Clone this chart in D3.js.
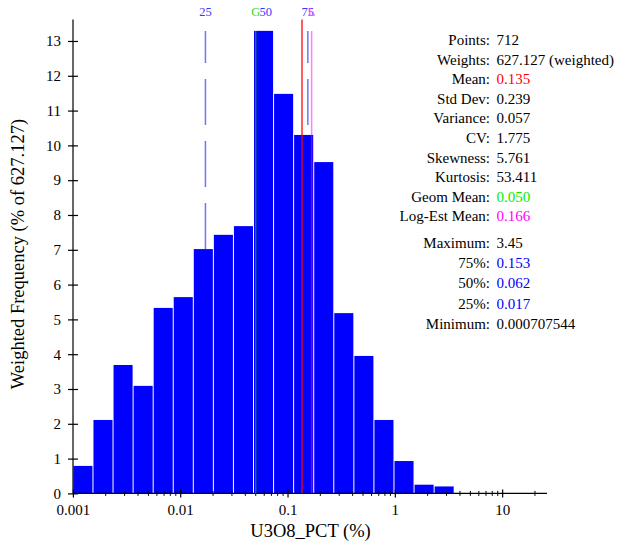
<!DOCTYPE html>
<html><head><meta charset="utf-8">
<script src="https://cdn.jsdelivr.net/npm/d3@7"></script>
<style>
body{margin:0;background:#fff}
svg{display:block}
text{font-family:"Liberation Serif","Times New Roman",serif}
</style></head>
<body><svg id="c" width="619" height="546"></svg>
<script>
// ---- data ----
const binEdges = [0.001, 0.001538, 0.002366, 0.003639, 0.005598, 0.008610, 0.01324, 0.02037, 0.03133, 0.04819,
                  0.07413, 0.1140, 0.1754, 0.2698, 0.4150, 0.6383, 0.9817, 1.510, 2.323, 3.573];
const freq = [0.79, 2.11, 3.69, 3.09, 5.33, 5.64, 7.02, 7.43, 7.68, 13.29,
              11.48, 10.30, 9.52, 5.18, 3.95, 2.11, 0.93, 0.25, 0.20];
const xTickValues = [0.001, 0.01, 0.1, 1, 10];
const xTickLabels = ["0.001", "0.01", "0.1", "1", "10"];
const yTickValues = [0,1,2,3,4,5,6,7,8,9,10,11,12,13];

const markerValues = [0.017, 0.062, 0.153, 0.050, 0.166, 0.135];
const markerLabels = ["25", "50", "75", "G", "L", ""];
const markerKinds  = ["q", "q", "q", "geom", "logest", "mean"];

const statLabels1 = ["Points:", "Weights:", "Mean:", "Std Dev:", "Variance:", "CV:", "Skewness:", "Kurtosis:", "Geom Mean:", "Log-Est Mean:"];
const statValues1 = ["712", "627.127 (weighted)", "0.135", "0.239", "0.057", "1.775", "5.761", "53.411", "0.050", "0.166"];
const statColors1 = ["#000","#000","#ff0000","#000","#000","#000","#000","#000","#00ee00","#ff00ff"];
const statLabels2 = ["Maximum:", "75%:", "50%:", "25%:", "Minimum:"];
const statValues2 = ["3.45", "0.153", "0.062", "0.017", "0.000707544"];
const statColors2 = ["#000", "#0000ff", "#0000ff", "#0000ff", "#000"];

const xTitle = "U3O8_PCT (%)";
const yTitle = "Weighted Frequency (% of 627.127)";

// ---- scales ----
const svg = d3.select("#c");
const x = d3.scaleLog().domain([0.001, 25.9]).range([73.4, 547]);
const y = d3.scaleLinear().domain([0, 13.62]).range([493.4, 19.4]);

// bars
svg.append("g").selectAll("rect").data(freq).join("rect")
  .attr("x", (d,i) => x(binEdges[i]))
  .attr("width", (d,i) => x(binEdges[i+1]) - x(binEdges[i]) - 1)
  .attr("y", d => y(d))
  .attr("height", d => y(0) - y(d))
  .attr("fill", "#0000ff");

// x axis
const gx = svg.append("g");
gx.append("line").attr("x1", x.range()[0]).attr("x2", x.range()[1])
  .attr("y1", y(0)).attr("y2", y(0)).attr("stroke", "#000").attr("stroke-width", 1.2);
const minor = x.ticks().filter(t => !xTickValues.some(v => Math.abs(v - t) / v < 1e-6));
gx.selectAll("line.minor").data(minor).join("line").attr("class","minor")
  .attr("x1", d => x(d)).attr("x2", d => x(d))
  .attr("y1", y(0) - 2.5).attr("y2", y(0) + 2.5).attr("stroke", "#000").attr("stroke-width", 1);
gx.selectAll("line.major").data(xTickValues).join("line").attr("class","major")
  .attr("x1", d => x(d)).attr("x2", d => x(d))
  .attr("y1", y(0) - 4).attr("y2", y(0) + 4).attr("stroke", "#000").attr("stroke-width", 1.2);
gx.selectAll("text").data(xTickValues).join("text")
  .attr("x", d => x(d)).attr("y", 515).attr("text-anchor", "middle")
  .attr("font-size", 15).text((d,i) => xTickLabels[i]);

// y axis
const gy = svg.append("g").attr("transform", `translate(${x.range()[0] - 0.4},0)`)
  .call(d3.axisLeft(y).tickValues(yTickValues).tickSize(5).tickPadding(7).tickFormat(d3.format("d")));
gy.select(".domain").attr("d", `M0,${y(0)}V${y.range()[1]}`).attr("stroke-width", 1.2);
gy.selectAll(".tick line").attr("x1", 5).attr("x2", -5).attr("stroke-width", 1.2);
gy.selectAll(".tick text").attr("font-size", 15)
  .attr("font-family", '"Liberation Serif","Times New Roman",serif');

// marker lines
const yTop = y(d3.max(freq));
const styles = {
  q:      {c: "#0000ff", o: 0.55, dash: "46,16", off: 14, top: yTop, lc: "#3a3aff"},
  geom:   {c: "#00ff00", o: 0.5,  dash: null, off: 0, top: yTop, lc: "#22dd22"},
  logest: {c: "#ff00ff", o: 0.5,  dash: null, off: 0, top: yTop, lc: "#ff44ff"},
  mean:   {c: "#ff0000", o: 0.85, dash: null, off: 0, top: y.range()[1], lc: "#ff0000"}
};
const gm = svg.append("g");
markerValues.forEach((v, i) => {
  const s = styles[markerKinds[i]];
  gm.append("line").attr("x1", x(v)).attr("x2", x(v))
    .attr("y1", s.top).attr("y2", y(0))
    .attr("stroke", s.c).attr("stroke-opacity", s.o).attr("stroke-width", 1.5)
    .attr("stroke-dasharray", s.dash).attr("stroke-dashoffset", s.off);
  if (markerLabels[i]) {
    gm.append("text").attr("x", x(v)).attr("y", 15.5).attr("text-anchor", "middle")
      .attr("font-size", 12.5).attr("fill", s.lc).text(markerLabels[i]);
  }
});

// stats
const gs = svg.append("g").attr("font-size", 15);
statLabels1.forEach((l, i) => {
  gs.append("text").attr("x", 490).attr("y", 45 + 19.6 * i).attr("text-anchor", "end").text(l);
  gs.append("text").attr("x", 496.5).attr("y", 45 + 19.6 * i).attr("fill", statColors1[i]).text(statValues1[i]);
});
statLabels2.forEach((l, i) => {
  gs.append("text").attr("x", 490).attr("y", 248 + 20.2 * i).attr("text-anchor", "end").text(l);
  gs.append("text").attr("x", 496.5).attr("y", 248 + 20.2 * i).attr("fill", statColors2[i]).text(statValues2[i]);
});

// titles
svg.append("text").attr("x", 310.5).attr("y", 537).attr("text-anchor", "middle")
  .attr("font-size", 18.5).text(xTitle);
svg.append("text").attr("transform", "translate(24,254) rotate(-90)").attr("text-anchor", "middle")
  .attr("font-size", 18.5).text(yTitle);
</script></body></html>
